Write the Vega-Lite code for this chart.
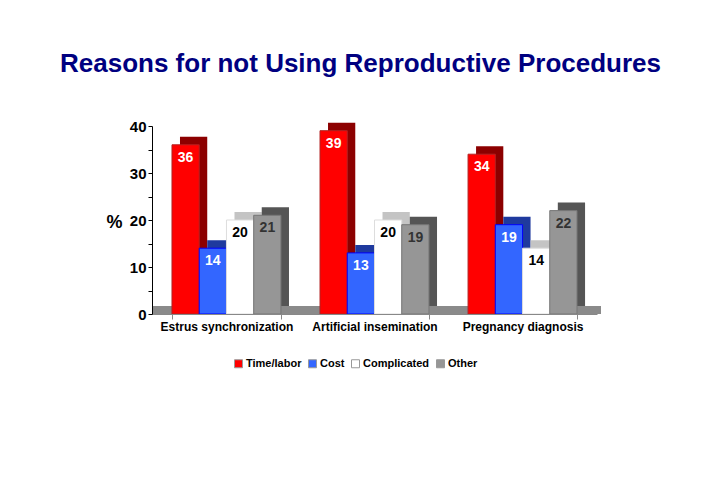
{
  "$schema": "https://vega.github.io/schema/vega-lite/v6.json",
  "autosize": "none",
  "width": 445,
  "height": 188,
  "padding": {"left": 152, "top": 126, "right": 109, "bottom": 185},
  "background": "white",
  "config": {"font": "Liberation Sans", "view": {"stroke": null}},
  "title": {
    "text": "Reasons for not Using Reproductive Procedures",
    "font": "Liberation Sans",
    "fontSize": 26,
    "fontWeight": "bold",
    "color": "#000080",
    "anchor": "middle",
    "frame": "group",
    "offset": 42,
    "dx": -14
  },
  "data": {
    "values": [
      {"procedure": "Estrus synchronization", "reason": "Time/labor", "value": 36},
      {"procedure": "Estrus synchronization", "reason": "Cost", "value": 14},
      {"procedure": "Estrus synchronization", "reason": "Complicated", "value": 20},
      {"procedure": "Estrus synchronization", "reason": "Other", "value": 21},
      {"procedure": "Artificial insemination", "reason": "Time/labor", "value": 39},
      {"procedure": "Artificial insemination", "reason": "Cost", "value": 13},
      {"procedure": "Artificial insemination", "reason": "Complicated", "value": 20},
      {"procedure": "Artificial insemination", "reason": "Other", "value": 19},
      {"procedure": "Pregnancy diagnosis", "reason": "Time/labor", "value": 34},
      {"procedure": "Pregnancy diagnosis", "reason": "Cost", "value": 19},
      {"procedure": "Pregnancy diagnosis", "reason": "Complicated", "value": 14},
      {"procedure": "Pregnancy diagnosis", "reason": "Other", "value": 22}
    ]
  },
  "encoding": {
    "x": {
      "field": "procedure",
      "type": "nominal",
      "sort": ["Estrus synchronization", "Artificial insemination", "Pregnancy diagnosis"],
      "scale": {"paddingInner": 0.264, "paddingOuter": 0.135},
      "axis": {
        "title": null,
        "labelAngle": 0,
        "labelFont": "Liberation Sans",
        "labelFontSize": 12,
        "labelFontWeight": "bold",
        "labelColor": "black",
        "labelPadding": 2,
        "tickBand": "extent",
        "tickColor": "#888",
        "tickSize": 5,
        "domainColor": "#888",
        "zindex": 1
      }
    },
    "y": {
      "field": "value",
      "type": "quantitative",
      "scale": {"domain": [0, 40], "nice": false},
      "axis": {
        "title": "%",
        "titleAngle": 0,
        "titleFont": "Liberation Sans",
        "titleFontSize": 18,
        "titleFontWeight": "bold",
        "titleColor": "black",
        "titleAlign": "right",
        "titleBaseline": "middle",
        "titleY": 96,
        "titleX": -30,
        "values": [0, 5, 10, 15, 20, 25, 30, 35, 40],
        "labelExpr": "datum.value % 10 == 0 ? datum.label : ''",
        "labelFont": "Liberation Sans",
        "labelFontSize": 15,
        "labelFontWeight": "bold",
        "labelColor": "black",
        "labelPadding": 2,
        "tickSize": 4,
        "tickColor": "black",
        "domainColor": "black",
        "grid": false,
        "zindex": 1
      }
    }
  },
  "layer": [
    {
      "mark": {"type": "rule", "color": "#8a8a8a", "strokeWidth": 7, "yOffset": -4, "xOffset": 4, "x2Offset": 4},
      "encoding": {"x": null, "y": {"datum": 0, "type": "quantitative"}}
    },
    {
      "mark": {"type": "bar", "yOffset": -8, "y2Offset": -8},
      "encoding": {
        "xOffset": {
          "field": "reason",
          "type": "nominal",
          "sort": ["Time/labor", "Cost", "Complicated", "Other"],
          "scale": {"range": [8, 117], "paddingInner": 0, "paddingOuter": 0}
        },
        "color": {
          "field": "reason",
          "type": "nominal",
          "sort": ["Time/labor", "Cost", "Complicated", "Other"],
          "scale": {"range": ["#8c0000", "#1f3a9e", "#c4c4c4", "#555555"]},
          "legend": null
        }
      }
    },
    {
      "mark": {"type": "bar", "strokeWidth": 1},
      "encoding": {
        "xOffset": {
          "field": "reason",
          "type": "nominal",
          "sort": ["Time/labor", "Cost", "Complicated", "Other"],
          "scale": {"paddingInner": 0, "paddingOuter": 0}
        },
        "color": {
          "field": "reason",
          "type": "nominal",
          "sort": ["Time/labor", "Cost", "Complicated", "Other"],
          "scale": {"range": ["#ff0000", "#3366ff", "#ffffff", "#969696"]},
          "legend": {
            "title": null,
            "orient": "none",
            "direction": "horizontal",
            "legendX": 81,
            "legendY": 232,
            "symbolType": "square",
            "symbolSize": 64,
            "symbolStrokeWidth": 1,
            "symbolStrokeColor": "#999",
            "labelFont": "Liberation Sans",
            "labelFontSize": 11,
            "labelFontWeight": "bold",
            "labelColor": "black",
            "labelOffset": 2,
            "columnPadding": 4
          }
        },
        "stroke": {
          "field": "reason",
          "type": "nominal",
          "sort": ["Time/labor", "Cost", "Complicated", "Other"],
          "scale": {"range": ["#b22222", "#0000ff", "#dddddd", "#777777"]},
          "legend": null
        }
      }
    },
    {
      "mark": {"type": "text", "baseline": "top", "dy": 6, "font": "Liberation Sans", "fontSize": 14, "fontWeight": "bold"},
      "encoding": {
        "xOffset": {
          "field": "reason",
          "type": "nominal",
          "sort": ["Time/labor", "Cost", "Complicated", "Other"],
          "scale": {"range": [13.6, 95.4], "padding": 0}
        },
        "text": {"field": "value", "type": "quantitative"},
        "color": {
          "field": "reason",
          "type": "nominal",
          "sort": ["Time/labor", "Cost", "Complicated", "Other"],
          "scale": {"range": ["#ffffff", "#ffffff", "#000000", "#333333"]},
          "legend": null
        }
      }
    }
  ],
  "resolve": {"scale": {"color": "independent", "stroke": "independent", "xOffset": "independent"}}
}
